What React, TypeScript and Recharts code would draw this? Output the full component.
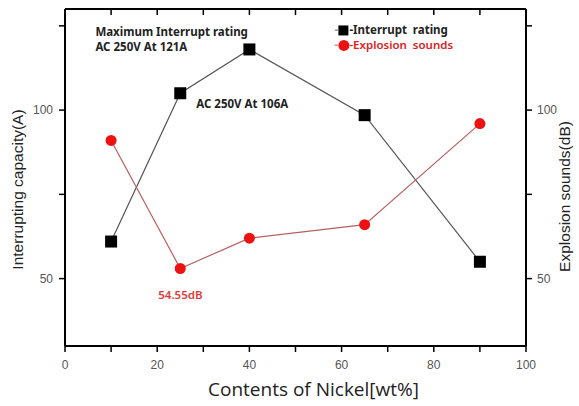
import { LineChart, Line, XAxis, YAxis, ReferenceLine } from "recharts";

const nickel = [10, 25, 40, 65, 90];
const interruptRating = [61, 105, 118, 98.5, 55];
const explosionSounds = [91, 53, 62, 66, 96];

const xTicks = [0, 10, 20, 30, 40, 50, 60, 70, 80, 90, 100];
const topTicks = [10, 20, 30, 40, 50, 60, 70, 80, 90];
const yTicks = [50, 75, 100, 125];
const xLabels = [0, 20, 40, 60, 80, 100];
const yLabels = [50, 100];
const yMax = 130;

const data = nickel.map((n, i) => ({
  nickel: n,
  interrupt: interruptRating[i],
  explosion: explosionSounds[i],
}));

const tickFont = "'Liberation Sans', Arial, sans-serif";
const annoFont = "'Noto Sans', 'Open Sans', sans-serif";

function BottomLabel(props: any) {
  const { x, y, payload } = props;
  if (!xLabels.includes(payload.value)) return <g />;
  return (
    <text x={x} y={y + 11} textAnchor="middle" fontSize={12} fill="#555" fontFamily={tickFont}>
      {payload.value}
    </text>
  );
}

function LeftLabel(props: any) {
  const { x, y, payload } = props;
  if (!yLabels.includes(payload.value)) return <g />;
  return (
    <text x={x} y={y + 4} textAnchor="end" fontSize={12} fill="#555" fontFamily={tickFont}>
      {payload.value}
    </text>
  );
}

function RightLabel(props: any) {
  const { x, y, payload } = props;
  if (!yLabels.includes(payload.value)) return <g />;
  return (
    <text x={x} y={y + 4} textAnchor="start" fontSize={12} fill="#555" fontFamily={tickFont}>
      {payload.value}
    </text>
  );
}

function SquareDot({ cx, cy, index }: any) {
  return <rect key={`sq-${index}`} x={cx - 6} y={cy - 6} width={12} height={12} fill="#000" />;
}

function CircleDot({ cx, cy, index }: any) {
  return <circle key={`ci-${index}`} cx={cx} cy={cy} r={5.5} fill="#ee1111" />;
}

const pointOf = (p: any) => ({
  px: p.x ?? p.viewBox?.x ?? 0,
  py: p.y ?? p.viewBox?.y ?? 0,
});

const bold = { fontFamily: annoFont, fontSize: 11.5, fontWeight: 700 };

function interruptNotes(p: any) {
  const { px, py } = pointOf(p);
  if (p.index === 2) {
    return (
      <g>
        <text x={px - 154} y={py - 13} fill="#222" {...bold}>Maximum Interrupt rating</text>
        <text x={px - 154} y={py + 2} fill="#222" {...bold}>AC 250V At 121A</text>
        <text x={px + 85} y={py - 15} fill="#999" {...bold}>-</text>
        <rect x={px + 89} y={py - 24} width={10} height={10} fill="#000" />
        <text x={px + 100} y={py - 15} fill="#222" {...bold}>{"-Interrupt\u00a0 rating"}</text>
        <text x={px + 85} y={py} fill="#e88" {...bold}>-</text>
        <circle cx={px + 94.5} cy={py - 4} r={5.5} fill="#ee1111" />
        <text x={px + 100} y={py} fill="#e02020" fontFamily={annoFont} fontSize={11.5} fontWeight={600}>
          {"-Explosion\u00a0 sounds"}
        </text>
      </g>
    );
  }
  if (p.index === 1) {
    return (
      <text x={px + 16} y={py + 15} fill="#222" {...bold}>AC 250V At 106A</text>
    );
  }
  return <g />;
}

function explosionNotes(p: any) {
  const { px, py } = pointOf(p);
  if (p.index === 1) {
    return (
      <text x={px - 22} y={py + 31} fill="#e03a3a" fontFamily={annoFont} fontSize={11.5} fontWeight={600}>
        54.55dB
      </text>
    );
  }
  return <g />;
}

function xTitle(p: any) {
  const vb = p.viewBox || {};
  return (
    <text
      x={vb.x + vb.width / 2 + 18}
      y={vb.y + 50}
      textAnchor="middle"
      fontFamily="'Open Sans', sans-serif"
      fontSize={19}
      fill="#222"
    >
      Contents of Nickel[wt%]
    </text>
  );
}

function leftTitle(p: any) {
  const vb = p.viewBox || {};
  const cx = vb.x + 17;
  const cy = vb.y + vb.height / 2 + 12;
  return (
    <text
      x={cx}
      y={cy}
      transform={`rotate(-90 ${cx} ${cy})`}
      textAnchor="middle"
      dominantBaseline="central"
      fontFamily={tickFont}
      fontSize={15.5}
      fill="#222"
    >
      Interrupting capacity(A)
    </text>
  );
}

function rightTitle(p: any) {
  const vb = p.viewBox || {};
  const cx = vb.x + 38;
  const cy = vb.y + vb.height / 2 + 19;
  return (
    <text
      x={cx}
      y={cy}
      transform={`rotate(-90 ${cx} ${cy})`}
      textAnchor="middle"
      dominantBaseline="central"
      fontFamily={tickFont}
      fontSize={15.5}
      fill="#222"
    >
      Explosion sounds(dB)
    </text>
  );
}

const axisStyle = { stroke: "#000", strokeWidth: 2 };
const tickStyle = { stroke: "#000", strokeWidth: 1.5 };

export default function App() {
  return (
    <div style={{ position: "absolute", left: 0, top: 0, width: 579, height: 406, background: "#fff" }}>
      <LineChart width={579} height={406} data={data} margin={{ top: 9, right: 0, left: 0, bottom: 0 }}>
        <XAxis
          dataKey="nickel"
          type="number"
          domain={[0, 100]}
          ticks={xTicks}
          height={60}
          tickSize={6}
          tickMargin={6}
          tickLine={tickStyle}
          tick={<BottomLabel />}
          axisLine={axisStyle}
          interval={0}
          label={{ content: xTitle }}
        />
        <YAxis
          yAxisId="left"
          type="number"
          domain={[30, yMax]}
          ticks={yTicks}
          width={65}
          tickSize={6}
          tickMargin={6}
          tickLine={tickStyle}
          tick={<LeftLabel />}
          axisLine={axisStyle}
          interval={0}
          label={{ content: leftTitle }}
        />
        <YAxis
          yAxisId="right"
          orientation="right"
          type="number"
          domain={[30, yMax]}
          ticks={yTicks}
          width={53}
          tickSize={6}
          tickMargin={5}
          tickLine={tickStyle}
          tick={<RightLabel />}
          axisLine={axisStyle}
          interval={0}
          label={{ content: rightTitle }}
        />
        <ReferenceLine yAxisId="left" y={yMax} stroke="#000" strokeWidth={2} ifOverflow="visible" />
        {topTicks.map((t) => (
          <ReferenceLine
            key={`top-${t}`}
            yAxisId="left"
            segment={[
              { x: t, y: yMax },
              { x: t, y: yMax - 1.8 },
            ]}
            stroke="#000"
            strokeWidth={1.5}
            ifOverflow="visible"
          />
        ))}
        <Line
          yAxisId="left"
          dataKey="interrupt"
          type="linear"
          stroke="#555"
          strokeWidth={1.2}
          dot={<SquareDot />}
          label={interruptNotes}
          isAnimationActive={false}
        />
        <Line
          yAxisId="right"
          dataKey="explosion"
          type="linear"
          stroke="#b86060"
          strokeWidth={1.2}
          dot={<CircleDot />}
          label={explosionNotes}
          isAnimationActive={false}
        />
      </LineChart>
    </div>
  );
}
